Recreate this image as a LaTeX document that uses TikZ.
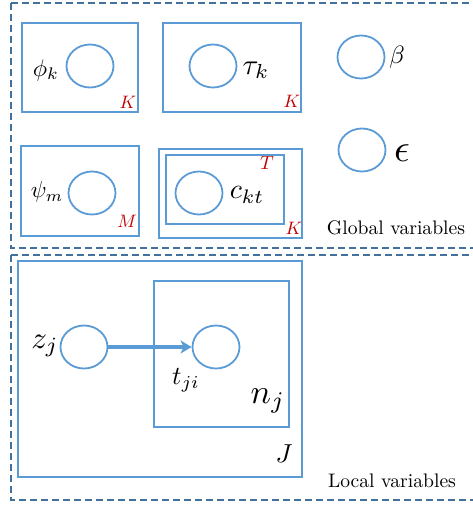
\documentclass[tikz,border=0pt]{standalone}
\usetikzlibrary{shapes.geometric,arrows.meta}
\definecolor{pblue}{HTML}{5B9BD5}
\definecolor{dblue}{HTML}{41719C}
\definecolor{pred}{HTML}{C00000}
\tikzset{
  plate/.style={draw=pblue,line width=1.8pt},
  var/.style={ellipse,draw=pblue,line width=1.8pt,minimum width=47pt,minimum height=43pt,inner sep=0pt},
  region/.style={draw=dblue,line width=1.6pt,dash pattern=on 7pt off 4pt},
  cnt/.style={text=pred,inner sep=0pt,scale=#1},
  lbl/.style={inner sep=0pt,scale=#1},
}
\begin{document}
\begin{tikzpicture}[x=1pt,y=-1pt]
\useasboundingbox (0,0) rectangle (473,506);
\begin{scope}
\clip (0,0) rectangle (473,506);
\draw[region] (11,3) rectangle (490,248);
\draw[region] (11,255) rectangle (490,500);
\end{scope}
% phi plate
\draw[plate] (22,23) rectangle (138,112);
\node[var] (phi) at (90,66) {};
\node[lbl=2.4] (phil) at (46,70) {$\phi_k$};
\node[cnt=1.8] (K1) at (128,102) {$K$};
% tau plate
\draw[plate] (163,23) rectangle (301,112);
\node[var] (tau) at (213,66) {};
\node[lbl=2.9] (taul) at (256,70) {$\tau_k$};
\node[cnt=1.8] (K2) at (292,101) {$K$};
% beta
\node[var] (beta) at (361,57) {};
\node[lbl=2.5] (betal) at (397,57) {$\beta$};
% epsilon
\node[var] (eps) at (362,150) {};
\node[lbl=3.9] (epsl) at (402,153) {$\epsilon$};
% psi plate
\draw[plate] (21,146) rectangle (139,236);
\node[var] (psi) at (92,193) {};
\node[lbl=2.3] (psil) at (47,192) {$\psi_m$};
\node[cnt=1.8] (M) at (127,221) {$M$};
% c plate
\draw[plate] (159,149) rectangle (302,238);
\draw[plate] (166,155) rectangle (284,224);
\node[var] (c) at (199,193) {};
\node[lbl=2.8] (cl) at (247,195) {$c_{kt}$};
\node[cnt=1.9] (T) at (267,163) {$T$};
\node[cnt=1.8] (K3) at (294,228) {$K$};
\node[lbl=1.96,anchor=base] (glob) at (396,234) {Global variables};
% local
\draw[plate] (18,261) rectangle (302,477);
\draw[plate] (154,281) rectangle (289,427);
\node[var] (z) at (84,347) {};
\node[lbl=3.1] (zl) at (45,346) {$z_j$};
\node[var] (t) at (216,347) {};
\node[lbl=2.6] (tl) at (186,380) {$t_{ji}$};
\node[lbl=3.4] (nl) at (268,401) {$n_j$};
\node[lbl=2.6] (J) at (284,454) {$J$};
\draw[pblue,line width=3.8pt,-{Stealth[length=11pt,width=13pt,inset=3pt]}] (z) -- (t);
\node[lbl=1.96,anchor=base] (loc) at (392,487) {Local variables};
\end{tikzpicture}
\end{document}
